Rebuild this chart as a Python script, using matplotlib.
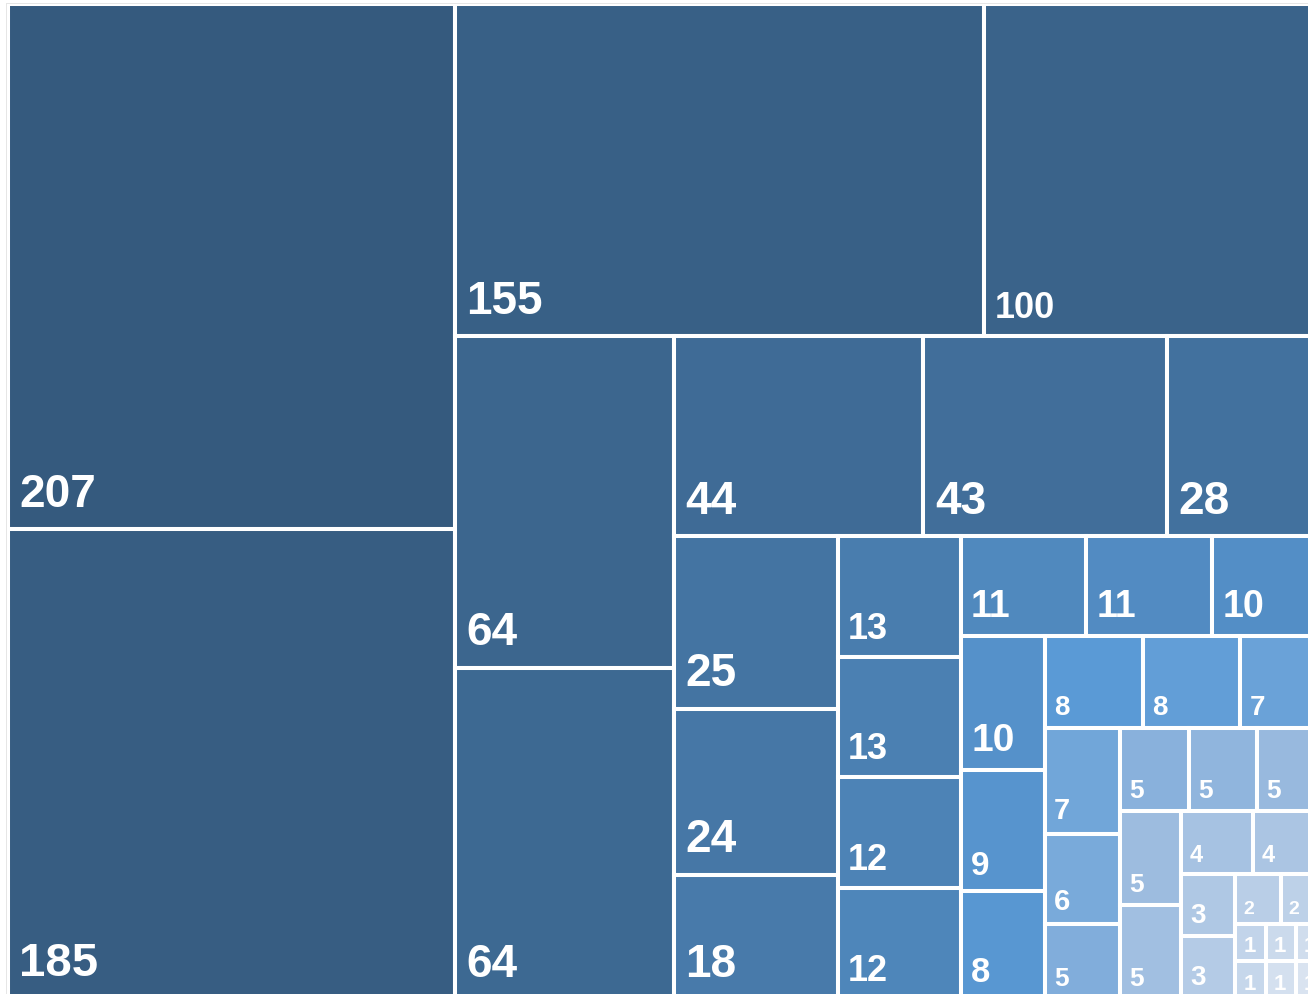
import matplotlib.pyplot as plt
from matplotlib.patches import Rectangle
from matplotlib.colors import to_rgb
import numpy as np

# tile values, largest first (same order the layout consumes them)
values = [207, 185, 155, 100, 64, 64, 44, 43, 28, 25, 24, 18, 13, 13, 12, 12,
          11, 11, 10, 10, 9, 8, 8, 8, 7, 7, 6, 5, 5, 5, 5, 5, 5, 4, 4, 3, 3,
          2, 2, 1, 1, 1, 1, 1, 1]
labels = [str(v) for v in values]

# label size per tile (pt)
label_pt = [33, 34, 33, 26, 33, 33, 33, 33, 33, 33, 33, 33, 26, 26, 26, 26,
            27, 27, 27, 28, 24, 25, 20, 20, 20, 21, 21, 19, 19, 19, 19, 19, 19,
            17, 17, 20, 20, 14, 14, 16, 16, 16, 16, 16, 16]

# colour ramp by rank: dark navy -> bright blue -> pale blue
ramp_stops = [(0, "#355a7e"), (22, "#5a9ad6"), (30, "#98b9de"), (44, "#d9e3f0")]


def ramp_color(i):
    for (a, ca), (b, cb) in zip(ramp_stops[:-1], ramp_stops[1:]):
        if a <= i <= b:
            t = (i - a) / (b - a)
            return tuple(np.array(to_rgb(ca)) * (1 - t) + np.array(to_rgb(cb)) * t)
    return to_rgb(ramp_stops[-1][1])


def squarify(vals, x0, y0, x1, y1):
    # rows go along the short side; a row keeps growing while the newest
    # tile gets a better aspect ratio than the previous last tile had
    rects = [None] * len(vals)
    total = float(sum(vals))
    n = len(vals)
    i0 = 0
    while i0 < n:
        dx, dy = x1 - x0, y1 - y0
        column = dx >= dy
        along, across = (dy, dx) if column else (dx, dy)

        def last_ratio(s, v):
            t = across * s / total
            ln = along * v / s
            return max(t / ln, ln / t)

        s = vals[i0]
        i1 = i0 + 1
        prev = last_ratio(s, vals[i0])
        while i1 < n:
            r = last_ratio(s + vals[i1], vals[i1])
            if r > prev:
                break
            s += vals[i1]
            prev = r
            i1 += 1

        if column:
            xb = x0 + dx * s / total
            y = y0
            for i in range(i0, i1):
                h = dy * vals[i] / s
                rects[i] = (x0, y, xb - x0, h)
                y += h
            x0 = xb
        else:
            yb = y0 + dy * s / total
            x = x0
            for i in range(i0, i1):
                w = dx * vals[i] / s
                rects[i] = (x, y0, w, yb - y0)
                x += w
            y0 = yb
        total -= s
        i0 = i1
    return rects


W, H = 1308, 995
fig = plt.figure(figsize=(W / 100, H / 100), dpi=100)
ax = fig.add_axes([0, 0, 1, 1])
ax.set_xlim(0, W)
ax.set_ylim(H, 0)
ax.axis("off")

# the map is a bit bigger than the canvas, right/bottom get clipped
tiles = squarify(values, 7.5, 5, 1326, 1000)

for i, (x, y, w, h) in enumerate(tiles):
    ax.add_patch(Rectangle((x, y), w, h, facecolor=ramp_color(i),
                           edgecolor="white", linewidth=2.9))
    fs = label_pt[i]
    ax.text(x + 5 + 0.2 * fs, y + h - min(0.68 * fs + 1, 0.27 * h), labels[i],
            color="white", fontsize=fs, fontweight="bold",
            family="Liberation Sans", ha="left", va="baseline", clip_on=True)

ax.add_patch(Rectangle((6, 4), 1330, 1000, facecolor="none",
                       edgecolor="#e6e6e6", linewidth=0.7, zorder=5))

fig.savefig("out.png", dpi=100)
